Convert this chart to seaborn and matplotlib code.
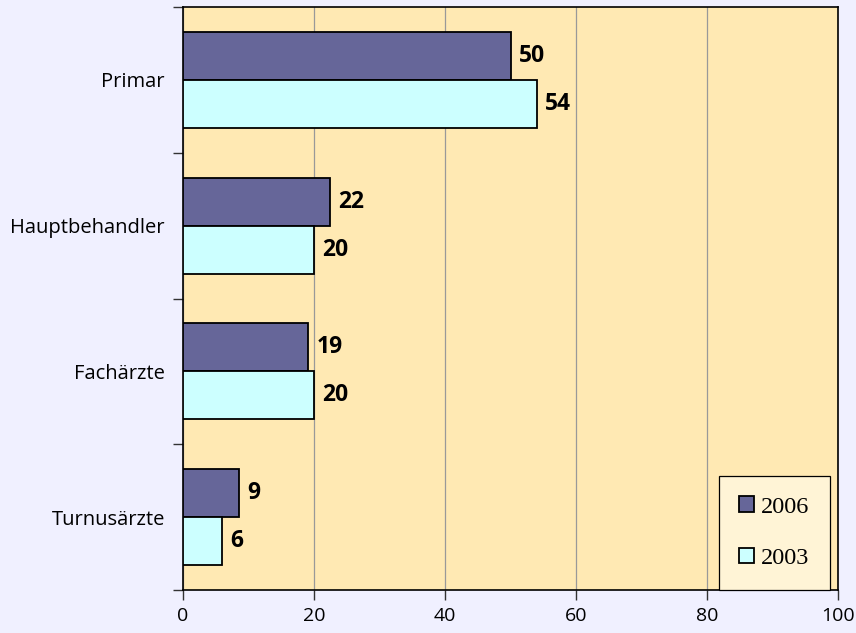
import pandas as pd
import seaborn as sns
import numpy as np
import matplotlib.pyplot as plt

categories = ['Primar', 'Hauptbehandler', 'Fachärzte', 'Turnusärzte']
years = ['2006', '2003']
vals_2006 = [50, 22.4, 19.1, 8.6]
vals_2003 = [54, 20, 20, 6]

d = pd.DataFrame({
    'category': categories * 2,
    'year': [years[0]] * 4 + [years[1]] * 4,
    'value': vals_2006 + vals_2003,
})

sns.set_style('white')
plt.rcParams['font.family'] = ['Open Sans', 'DejaVu Sans']
plt.rcParams['text.color'] = 'black'
plt.rcParams['xtick.color'] = 'black'
plt.rcParams['ytick.color'] = 'black'

fig = plt.figure(figsize=(8.56, 6.33), dpi=100, facecolor='#F0F0FF')
ax = fig.add_axes([183/856, 1 - 590/633, 655/856, 583/633])
ax.set_facecolor('#FFE9B3')

sns.barplot(ax=ax, data=d, x='value', y='category', hue='year', order=categories,
            hue_order=years, palette={'2006': '#666699', '2003': '#CCFFFF'},
            saturation=1, width=0.66, edgecolor='black', linewidth=1.3, zorder=3)

for c in ax.containers:
    ax.bar_label(c, fmt='%.0f', padding=6, fontsize=16.5, fontweight='bold', color='black')

ax.set_xlim(0, 100)
ax.set_ylim(3.5, -0.5)
ax.set_xticks(np.arange(0, 101, 20))
ax.xaxis.grid(True, color='#999999', linewidth=0.9, zorder=0)
ax.set_axisbelow(True)
ax.set_yticks(range(len(categories)), categories)
ax.set_yticks(np.arange(-0.5, 4, 1), minor=True)
ax.tick_params(axis='y', which='major', length=0, pad=13, labelsize=14.5, labelcolor='black')
ax.tick_params(axis='y', which='minor', length=7, width=1, color='#333333', direction='out', left=True)
ax.tick_params(axis='x', length=7, width=1, color='#333333', direction='out', bottom=True, pad=5,
               labelsize=14, labelcolor='black')
ax.set_xlabel('')
ax.set_ylabel('')
for s in ax.spines.values():
    s.set_visible(True)
    s.set_color('black')
    s.set_linewidth(1.2)

leg = ax.legend(loc='lower right', bbox_to_anchor=(0.988, 0), borderaxespad=0,
                frameon=True, fancybox=False, edgecolor='black', facecolor='#FFF4D6',
                framealpha=1, prop={'family': 'Liberation Serif', 'size': 17.5},
                handlelength=0.6, handleheight=0.6, handletextpad=0.3,
                labelspacing=1.25, borderpad=0.85, title=None)
leg.get_frame().set_linewidth(0.9)

fig.savefig('out.png', dpi=100, facecolor=fig.get_facecolor())
